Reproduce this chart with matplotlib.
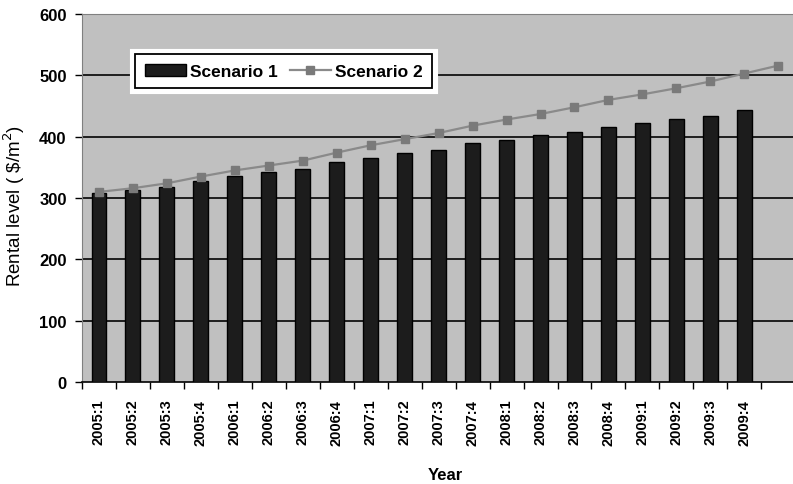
import numpy as np
import matplotlib
matplotlib.use("Agg")
import matplotlib.pyplot as plt
from matplotlib import patheffects

plt.rcParams['font.family'] = ['Liberation Sans', 'DejaVu Sans']

# quarters shown on the axis (last slot has no label)
quarters = ["2005:1", "2005:2", "2005:3", "2005:4",
            "2006:1", "2006:2", "2006:3", "2006:4",
            "2007:1", "2007:2", "2007:3", "2007:4",
            "2008:1", "2008:2", "2008:3", "2008:4",
            "2009:1", "2009:2", "2009:3", "2009:4", ""]

# rental level ($/m2)
scenario1 = [309, 313, 318, 328, 336, 343, 348, 358, 365, 373,
             379, 390, 394, 402, 407, 416, 422, 429, 433, 443]
scenario2 = [310, 316, 324, 335, 345, 353, 361, 374, 386, 396,
             406, 418, 428, 437, 448, 460, 469, 479, 490, 503, 516]

fig = plt.figure(figsize=(7.93, 4.85), dpi=100)
ax = fig.add_axes([0.1034, 0.2103, 0.9166, 0.969 - 0.2103])
ax.set_facecolor("#c0c0c0")

x1 = np.arange(len(scenario1))
x2 = np.arange(len(scenario2))

bars = ax.bar(x1, scenario1, width=0.44, color="#1c1c1c", edgecolor="black",
              linewidth=1, zorder=3, label="Scenario 1")
line, = ax.plot(x2, scenario2, color="#8a8a8a", linewidth=1.6, marker="s",
                markersize=6, markerfacecolor="#7a7a7a",
                markeredgecolor="#7a7a7a", zorder=4, label="Scenario 2")

ax.set_ylim(0, 600)
ax.set_yticks(range(0, 601, 100))
ax.set_xlim(-0.5, 20.9)

# grid
for v in range(100, 600, 100):
    ax.axhline(v, color="#111111", linewidth=1.3, zorder=1)

# x ticks: labels at centres, tick marks on the boundaries
ax.set_xticks(x2)
ax.set_xticklabels(quarters, rotation=90, fontweight="bold", fontsize=10.5)
ax.tick_params(axis="x", which="major", length=0, pad=12)
ax.set_xticks(np.arange(-0.5, 21, 1), minor=True)
ax.tick_params(axis="x", which="minor", length=5, width=1, color="black")
ax.tick_params(axis="y", length=5, width=1, color="black", labelsize=12, pad=6)
for t in ax.get_yticklabels():
    t.set_fontweight("bold")

for s in ["left", "top"]:
    ax.spines[s].set_color("#808080")
ax.spines["bottom"].set_color("black")
ax.spines["bottom"].set_linewidth(1.2)
ax.spines["right"].set_visible(False)

ax.set_ylabel("Rental level ( \\$/m$^2$)", fontsize=13.5)
ax.yaxis.set_label_coords(-0.076, 0.48)
ax.set_xlabel("Year", fontsize=12, fontweight="bold", labelpad=16)

leg = ax.legend(handles=[bars, line], labels=["Scenario 1", "Scenario 2"],
                loc="upper left", bbox_to_anchor=(0.073, 0.891),
                borderaxespad=0, ncol=2, frameon=True, fancybox=False,
                edgecolor="black", framealpha=1,
                prop={"weight": "bold", "size": 12.5}, handlelength=2.36,
                handleheight=0.7, columnspacing=0.7, borderpad=0.55,
                handletextpad=0.25)
frame = leg.get_frame()
frame.set_linewidth(1.3)
frame.set_path_effects([patheffects.Stroke(linewidth=8, foreground="white"),
                        patheffects.Normal()])
leg.set_zorder(5)

fig.savefig("out.png", dpi=100)
